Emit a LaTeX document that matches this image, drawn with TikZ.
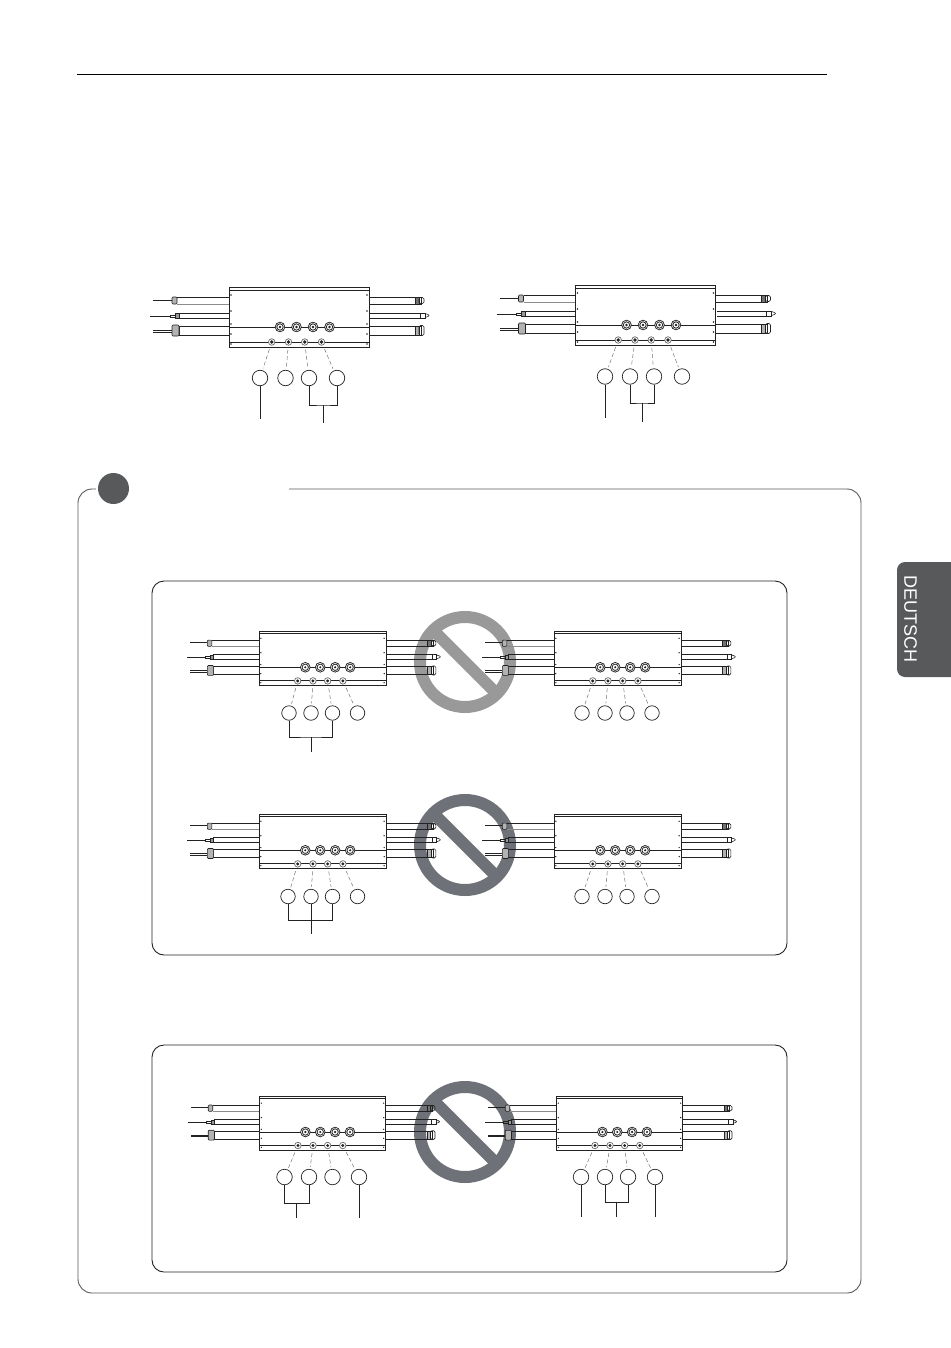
\documentclass[tikz,border=0pt]{standalone}
\usepackage{fontspec}
\newfontfamily\tabfont{Liberation Sans}
\definecolor{inkline}{HTML}{222222}
\definecolor{tabgrey}{HTML}{58595B}
\definecolor{signgrey}{HTML}{6E7278}
\definecolor{signlight}{HTML}{999999}
\tikzset{
	boxline/.style={draw=inkline,line width=0.9pt},
	thinline/.style={draw=inkline,line width=0.6pt},
	wireline/.style={draw=inkline,line width=1pt},
	tag/.style={circle,draw=inkline,line width=0.7pt,minimum size=15.5pt,inner sep=0pt},
	smalltag/.style={tag,minimum size=14.5pt},
	leader/.style={draw=black!55,line width=0.5pt,dash pattern=on 4pt off 2.5pt,shorten <=4pt,shorten >=2pt},
	bracket/.style={draw=inkline,line width=0.7pt},
	bigfit/.style={circle,draw=inkline,fill=white,line width=0.9pt,double=white,double distance=0.5pt,minimum size=8pt,inner sep=0pt},
	smallfit/.style={circle,draw=black!60,fill=white,line width=0.7pt,minimum size=6.5pt,inner sep=0pt},
	unit/.pic={
		% Left pipes
		\draw[thinline] (0,10) -- (-52,10);
		\draw[draw=black!45,line width=0.9pt] (-52,17) -- (0,17);
		\draw[thinline] (0,26) -- (-50,26) -- (-50,31) -- (0,31);
		\draw[thinline] (0,39) -- (-50,39) -- (-50,48) -- (0,48);
		\draw[thinline,fill=black!30,rounded corners=1pt] (-57,10) rectangle (-52,17);
		\draw[thinline,fill=black!40] (-54,26.5) rectangle (-50,31);
		\draw[thinline,fill=black!30,rounded corners=1pt] (-57,38) rectangle (-50,49);
		\draw[wireline] (-76,13) -- (-57,13);
		\draw[wireline] (-79,29) -- (-59,29);
		\draw[thinline] (-59,28) rectangle (-54,30);
		\draw[thinline] (-76,43.2) -- (-57,43.2);
		\draw[thinline] (-76,45) -- (-57,45);
		% Right pipes
		\draw[thinline] (140,10) -- (192,10) -- (192,17) -- (140,17);
		\draw[thinline] (141,26) -- (196,26) -- (196,31) -- (141,31);
		\draw[thinline] (140,39) -- (192,39) -- (192,48) -- (140,48);
		\draw[thinline,fill=black!55] (186,10) rectangle (190,17);
		\draw[thinline,rounded corners=1.5pt] (190,10.5) rectangle (195,16.5);
		\draw[thinline] (191,26) -- (191,31);
		\draw[thinline] (196,26.5) -- (199,27.5) -- (200,28.5) -- (199,29.5) -- (196,30.5);
		\draw[thinline,fill=black!30] (186,39) rectangle (190,48);
		\draw[thinline,rounded corners=1.5pt] (190,38.5) rectangle (195,48.5);
		% Box
		\draw[boxline] (0,0) rectangle (140,60);
		\draw[thinline] (0,3) -- (140,3);
		\draw[boxline] (0,40) -- (140,40);
		\draw[boxline] (0,55) -- (140,55);
		\foreach \yy in {8,24,37,47,57} {
			\fill[inkline] (2,\yy) circle (0.8);
			\fill[inkline] (138,\yy) circle (0.8);
		}
		% Fittings
		\foreach \i/\xx in {1/51,2/67.5,3/84,4/100.5} {
			\node[bigfit] (-b\i) at (\xx,40) {};
			\fill[inkline] (\xx,40) circle (1.3);
		}
		\foreach \i/\xx in {1/42.7,2/59.5,3/75.7,4/92.5} {
			\node[smallfit] (-s\i) at (\xx,55) {};
			\fill[inkline] (\xx,55) circle (1.8);
		}
	}
}
\begin{document}
\begin{tikzpicture}[x=1pt,y=-1pt]
	\useasboundingbox (0,0) rectangle (950,1348);
	
	% Page rule and side tab
	\draw[line width=1pt,draw=black] (77,75) -- (827,75);
	\fill[tabgrey,rounded corners=8pt] (965,562) -- (897,562) -- (897,677) -- (965,677) -- cycle;
	\node[rotate=-90,text=white,inner sep=0pt] (tablabel) at (910.5,619) {\tabfont\fontsize{18}{18}\selectfont DEUTSCH};
	
	% Frames
	\draw[line width=0.9pt,draw=black!65,rounded corners=14pt] (289,489) -- (861,489) -- (861,1293) -- (78,1293) -- (78,489) -- (96,489);
	\node[circle,fill=tabgrey,minimum size=31pt,inner sep=0pt] (badge) at (113.5,488.5) {};
	\draw[boxline,rounded corners=12pt] (152,581) rectangle (787,955);
	\draw[boxline,rounded corners=12pt] (152,1045) rectangle (787,1272);
	
	% Signs
	\draw[line width=12pt,draw=signlight] (465,662) circle (45);
	\draw[line width=12pt,draw=signlight] (433,630) -- (497,694);
	\draw[line width=12pt,draw=signgrey] (465,845) circle (45);
	\draw[line width=12pt,draw=signgrey] (433,813) -- (497,877);
	\draw[line width=12pt,draw=signgrey] (465,1132) circle (45);
	\draw[line width=12pt,draw=signgrey] (433,1100) -- (497,1164);
	
	% Units
	\pic (a) at (229,287) {unit};
	\pic (b) at (575.5,285) {unit};
	\pic[scale=0.907] (c) at (259,631) {unit};
	\pic[scale=0.907] (d) at (554,631) {unit};
	\pic[scale=0.907] (e) at (259,814) {unit};
	\pic[scale=0.907] (f) at (554,814) {unit};
	\pic[scale=0.9] (g) at (259.5,1096) {unit};
	\pic[scale=0.9] (h) at (556.5,1096) {unit};
	
	% Tags
	\foreach \i/\xx in {1/260,2/285.5,3/309,4/337} \node[tag] (a\i) at (\xx,378) {};
	\foreach \i/\xx in {1/605,2/630,3/654,4/682} \node[tag] (b\i) at (\xx,376.5) {};
	\foreach \i/\xx in {1/289,2/311,3/332.5,4/357.5} \node[smalltag] (c\i) at (\xx,713) {};
	\foreach \i/\xx in {1/582,2/605,3/627,4/652} \node[smalltag] (d\i) at (\xx,713) {};
	\foreach \i/\xx in {1/288,2/311,3/332.5,4/357.5} \node[smalltag] (e\i) at (\xx,896.5) {};
	\foreach \i/\xx in {1/582,2/605,3/627,4/652} \node[smalltag] (f\i) at (\xx,896.5) {};
	\foreach \i/\xx in {1/284.5,2/309,3/332.5,4/359} \node[tag] (g\i) at (\xx,1177) {};
	\foreach \i/\xx in {1/581,2/605,3/628,4/655} \node[tag] (h\i) at (\xx,1177) {};
	
	% Leaders
	\foreach \u in {a,b,c,d,e,f,g,h}
		\foreach \i in {1,2,3,4}
			\draw[leader] (\u-s\i) -- (\u\i);
	
	% Brackets
	\coordinate (amid) at (323.5,405);
	\coordinate (aend) at (323.5,423);
	\coordinate (aone) at (260,419);
	\draw[bracket] (a3) |- (amid) -| (a4);
	\draw[bracket] (amid) -- (aend);
	\draw[bracket] (a1) -- (aone);
	
	\coordinate (bmid) at (642,403);
	\coordinate (bend) at (642,422);
	\coordinate (bone) at (605,418);
	\draw[bracket] (b2) |- (bmid) -| (b3);
	\draw[bracket] (bmid) -- (bend);
	\draw[bracket] (b1) -- (bone);
	
	\coordinate (cmid) at (311,737);
	\coordinate (cend) at (311,752);
	\draw[bracket] (c1) |- (cmid) -| (c3);
	\draw[bracket] (cmid) -- (cend);
	
	\coordinate (eend) at (311,934);
	\coordinate (emid) at (311,920);
	\draw[bracket] (e1) |- (emid) -| (e3);
	\draw[bracket] (e2) -- (eend);
	
	\coordinate (gmid) at (296.5,1203);
	\coordinate (gend) at (296.5,1218);
	\coordinate (gfour) at (359,1218);
	\draw[bracket] (g1) |- (gmid) -| (g2);
	\draw[bracket] (gmid) -- (gend);
	\draw[bracket] (g4) -- (gfour);
	
	\coordinate (hmid) at (616.5,1202);
	\coordinate (hend) at (616.5,1217);
	\coordinate (hone) at (581,1217);
	\coordinate (hfour) at (655,1217);
	\draw[bracket] (h2) |- (hmid) -| (h3);
	\draw[bracket] (hmid) -- (hend);
	\draw[bracket] (h1) -- (hone);
	\draw[bracket] (h4) -- (hfour);
\end{tikzpicture}
\end{document}
